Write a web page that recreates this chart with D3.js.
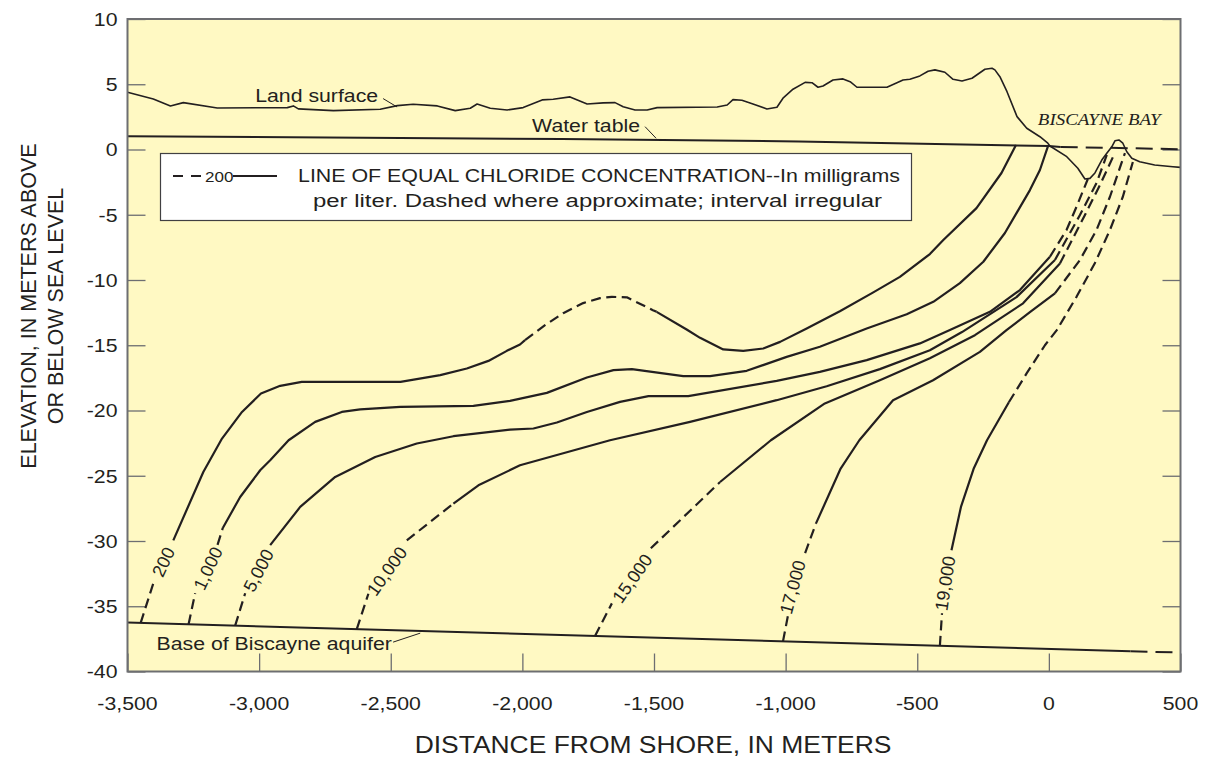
<!DOCTYPE html>
<html>
<head>
<meta charset="utf-8">
<script src="https://cdn.jsdelivr.net/npm/d3@7"></script>
<style>
  body { margin: 0; background: #ffffff; }
  svg text { fill: #231f20; }
</style>
</head>
<body>
<svg id="chart" width="1211" height="758"></svg>
<script>
// ---- axis ticks -------------------------------------------------------
const xTicks = [-3500, -3000, -2500, -2000, -1500, -1000, -500, 0, 500];
const yTicks = [10, 5, 0, -5, -10, -15, -20, -25, -30, -35, -40];

// ---- profile lines (distance from shore m, elevation m) -----------------
const landSurface = [
  [-3500,4.39],[-3402,3.87],[-3337,3.34],[-3288,3.59],[-3159,3.18],[-2893,3.21],[-2870,3.34],
  [-2851,3.11],[-2718,2.98],[-2540,3.08],[-2475,3.36],[-2415,3.47],[-2323,3.34],[-2255,2.98],
  [-2198,3.16],[-2172,3.49],[-2122,3.16],[-2058,3.03],[-1997,3.21],[-1925,3.80],[-1883,3.85],
  [-1819,4.03],[-1754,3.49],[-1693,3.57],[-1648,3.59],[-1617,3.28],[-1572,3.03],[-1526,3.03],
  [-1488,3.21],[-1260,3.26],[-1222,3.41],[-1200,3.82],[-1166,3.77],[-1124,3.49],[-1071,3.11],
  [-1033,3.24],[-1010,3.93],[-972,4.62],[-926,5.14],[-900,5.12],[-877,4.77],[-858,4.87],
  [-820,5.33],[-782,5.41],[-755,5.20],[-729,4.77],[-615,4.77],[-554,5.33],[-528,5.38],
  [-490,5.64],[-459,6.00],[-433,6.10],[-395,5.92],[-364,5.38],[-330,5.25],[-292,5.46],
  [-243,6.15],[-216,6.23],[-205,6.10],[-186,5.58],[-159,4.43],[-121,2.52],[-84,1.63],
  [-34,0.98],[-4,0.48],[4,0.27],[68,-0.55],[110,-1.44],[137,-2.26],[156,-2.21],[175,-1.80],
  [201,-0.81],[220,-0.29],[239,0.21],[251,0.67],[266,0.73],[281,0.48],[296,-0.17],[315,-0.67],
  [345,-0.94],[402,-1.19],[471,-1.32],[500,-1.37]
];
const waterTable = [[-3500,1.02],[-1850,0.80],[-950,0.62],[0,0.27],[45,0.20]];
const waterTableBay = [[45,0.20],[500,0.02]];
const aquiferBase = [[-3500,-36.25],[310,-38.45]];
const aquiferBaseOffshore = [[310,-38.45],[500,-38.55]];

// ---- lines of equal chloride concentration (mg/L) ----------------------
// each piece: "d" dashed, "s" solid, "label" gap holding the value label
const chloride200 = [
  {s:"d", p:[[-3450,-36.28],[-3402,-33.25]]},
  {s:"label", p:[[-3364,-31.6]]},
  {s:"s", p:[[-3326,-29.95],[-3212,-24.71],[-3141,-22.15],[-3065,-20.11],[-2993,-18.70],[-2920,-18.11],
             [-2838,-17.81],[-2463,-17.81],[-2312,-17.29],[-2211,-16.78],[-2129,-16.20],[-2059,-15.43],
             [-2009,-14.94],[-1990,-14.61]]},
  {s:"d", p:[[-1990,-14.61],[-1914,-13.46],[-1845,-12.54],[-1769,-11.77],[-1705,-11.39],[-1660,-11.29],
             [-1603,-11.33],[-1504,-12.31],[-1490,-12.44]]},
  {s:"s", p:[[-1490,-12.44],[-1376,-13.79],[-1325,-14.43],[-1237,-15.32],[-1161,-15.43],[-1085,-15.25],
             [-1021,-14.74],[-920,-13.71],[-794,-12.39],[-667,-10.95],[-566,-9.76],[-452,-8.01],
             [-401,-6.94],[-275,-4.49],[-180,-1.80],[-125,0.35]]}
];
const chloride1000 = [
  {s:"d", p:[[-3268,-36.38],[-3243,-34.0]]},
  {s:"label", p:[[-3195,-32.1]]},
  {s:"d", p:[[-3158,-30.3],[-3138,-29.0]]},
  {s:"s", p:[[-3138,-29.0],[-3072,-26.63],[-2996,-24.58],[-2958,-23.81],[-2888,-22.28],[-2787,-20.87],
             [-2686,-20.11],[-2616,-19.92],[-2464,-19.72],[-2186,-19.65],[-2047,-19.26],[-1907,-18.65],
             [-1755,-17.47],[-1654,-16.91],[-1584,-16.83],[-1389,-17.37],[-1287,-17.37],[-1148,-16.96],
             [-996,-15.89],[-870,-15.12],[-692,-13.71],[-540,-12.62],[-439,-11.67],[-338,-10.24],
             [-249,-8.60],[-167,-6.40],[-72,-3.11],[-34,-1.57],[-3,0.27]]}
];
const chloride5000 = [
  {s:"d", p:[[-3091,-36.49],[-3053,-34.0]]},
  {s:"label", p:[[-3003,-32.25]]},
  {s:"s", p:[[-2958,-30.32],[-2844,-27.39],[-2711,-25.09],[-2559,-23.56],[-2401,-22.53],[-2262,-21.97],
             [-2047,-21.46],[-1958,-21.38],[-1869,-20.92],[-1755,-20.11],[-1629,-19.34],[-1521,-18.90],
             [-1370,-18.90],[-1034,-17.73],[-870,-17.04],[-692,-16.14],[-490,-14.86],[-376,-13.84],
             [-224,-12.44],[-110,-10.77],[4,-8.22]]},
  {s:"d", p:[[4,-8.22],[67,-6.17],[105,-4.39],[148,-2.26]]}
];
const chloride10000 = [
  {s:"d", p:[[-2629,-36.75],[-2585,-34.04]]},
  {s:"label", p:[[-2515,-32.3]]},
  {s:"d", p:[[-2439,-29.95],[-2262,-27.13]]},
  {s:"s", p:[[-2262,-27.13],[-2167,-25.73],[-2009,-24.20],[-1667,-22.28],[-1363,-20.87],[-1034,-19.21],
             [-844,-18.14],[-642,-16.83],[-452,-15.38],[-330,-13.99],[-123,-11.31],[23,-8.47]]},
  {s:"d", p:[[23,-8.47],[118,-5.02],[181,-2.57],[220,-0.42]]}
];
const chloride15000 = [
  {s:"d", p:[[-1724,-37.28],[-1660,-34.78]]},
  {s:"label", p:[[-1583,-32.86]]},
  {s:"d", p:[[-1512,-30.56],[-1249,-25.48]]},
  {s:"s", p:[[-1249,-25.48],[-1056,-22.28],[-851,-19.46],[-642,-17.68],[-452,-15.99],[-281,-14.23],
             [-98,-11.79],[42,-8.73]]},
  {s:"d", p:[[42,-8.73],[137,-5.02],[194,-2.72],[247,-0.42]]}
];
const chloride17000 = [
  {s:"d", p:[[-1010,-37.69],[-991,-35.7]]},
  {s:"label", p:[[-974,-33.53]]},
  {s:"d", p:[[-926,-30.92],[-885,-28.67]]},
  {s:"s", p:[[-885,-28.67],[-791,-24.45],[-720,-22.28],[-592,-19.21],[-440,-17.68],[-262,-15.51],
             [-161,-13.84],[-72,-12.46],[23,-11.03]]},
  {s:"d", p:[[23,-11.03],[118,-8.47],[181,-6.17],[232,-3.62],[289,-0.27]]}
];
const chloride19000 = [
  {s:"d", p:[[-414,-38.03],[-406,-35.54]]},
  {s:"label", p:[[-395,-33.24]]},
  {s:"s", p:[[-370,-30.71],[-334,-27.39],[-285,-24.42],[-235,-22.28],[-152,-19.37]]},
  {s:"d", p:[[-152,-19.37],[-84,-17.14],[-15,-15.0],[30,-13.84],[105,-11.29],[175,-8.70],
             [232,-6.17],[281,-3.62],[319,-0.96]]}
];
const chlorideLines = [
  ["200", chloride200], ["1,000", chloride1000], ["5,000", chloride5000], ["10,000", chloride10000],
  ["15,000", chloride15000], ["17,000", chloride17000], ["19,000", chloride19000]
];

// ---- layout -------------------------------------------------------------
const svg = d3.select("#chart");
const sans = "'Liberation Sans', Arial, Helvetica, sans-serif";
const serif = "'Liberation Serif', 'Times New Roman', serif";
const plot = {left: 127.5, right: 1180.5, top: 19, bottom: 671.5};
const x = d3.scaleLinear().domain([-3500, 500]).range([plot.left, plot.right]);
const y = d3.scaleLinear().domain([-40, 10]).range([plot.bottom, plot.top]);
const ink = "#231f20";
const frameColor = "#6d6e71";
const dashPattern = "10,5.5";
const fmt = d3.formatLocale({decimal: ".", thousands: ",", grouping: [3], currency: ["", ""], minus: "-"}).format(",");

// text drawn slightly widened, anchored at (px, py)
const wideText = (parent, px, py, txt, size, k, anchor) => parent.append("text")
  .attr("transform", `translate(${px},${py}) scale(${k},1)`)
  .attr("text-anchor", anchor || "start")
  .style("font-family", sans).attr("font-size", size).text(txt);

svg.append("rect")
  .attr("x", plot.left).attr("y", plot.top)
  .attr("width", plot.right - plot.left).attr("height", plot.bottom - plot.top)
  .attr("fill", "#fff9c3");

const line = d3.line().x(d => x(d[0])).y(d => y(d[1]));

// axes: inward ticks on bottom, left and right
const gx = svg.append("g").attr("transform", `translate(0,${plot.bottom})`)
  .call(d3.axisBottom(x).tickValues(xTicks).tickSize(-18).tickFormat(""));
const gy = svg.append("g").attr("transform", `translate(${plot.left},0)`)
  .call(d3.axisLeft(y).tickValues(yTicks).tickSize(-18).tickFormat(""));
const gyr = svg.append("g").attr("transform", `translate(${plot.right},0)`)
  .call(d3.axisRight(y).tickValues(yTicks).tickSize(-18).tickFormat(""));
[gx, gy, gyr].forEach(g => {
  g.select(".domain").remove();
  g.selectAll(".tick line").attr("stroke", frameColor).attr("stroke-width", 1.3);
});
xTicks.forEach(v => wideText(svg, x(v), 710, fmt(v), 19, 1.12, "middle"));
yTicks.forEach(v => wideText(svg, 117.5, y(v) + 6.8, fmt(v), 19, 1.12, "end"));

// profile lines
const drawPath = (pts, dash, width) => svg.append("path")
  .attr("d", line(pts)).attr("fill", "none").attr("stroke", ink)
  .attr("stroke-width", width).attr("stroke-linejoin", "round")
  .attr("stroke-dasharray", dash);

drawPath(landSurface, null, 1.6);
drawPath(waterTable, null, 2);
drawPath(waterTableBay, "17,8", 2);
drawPath(aquiferBase, null, 2);
drawPath(aquiferBaseOffshore, "17,8", 2);

// chloride lines with rotated value labels
chlorideLines.forEach(([name, pieces]) => {
  pieces.forEach((piece, i) => {
    if (piece.s === "label") {
      const prev = pieces[i - 1].p, next = pieces[i + 1].p;
      const a = prev[prev.length - 1], b = next[0];
      const ang = Math.atan2(y(b[1]) - y(a[1]), x(b[0]) - x(a[0])) * 180 / Math.PI;
      const c = piece.p[0];
      svg.append("text")
        .attr("transform", `translate(${x(c[0])},${y(c[1])}) rotate(${ang})`)
        .attr("text-anchor", "middle").attr("dy", "0.36em")
        .style("font-family", sans).attr("font-size", 18).text(name);
    } else {
      drawPath(piece.p, piece.s === "d" ? dashPattern : null, 2.2);
    }
  });
});

// frame
svg.append("rect")
  .attr("x", plot.left).attr("y", plot.top)
  .attr("width", plot.right - plot.left).attr("height", plot.bottom - plot.top)
  .attr("fill", "none").attr("stroke", frameColor).attr("stroke-width", 2);

// line annotations
const leader = (a, b) => svg.append("line")
  .attr("x1", x(a[0])).attr("y1", y(a[1])).attr("x2", x(b[0])).attr("y2", y(b[1]))
  .attr("stroke", ink).attr("stroke-width", 1);

wideText(svg, x(-2548), y(3.67), "Land surface", 18.5, 1.15, "end");
leader([-2529, 3.9], [-2476, 3.26]);
wideText(svg, x(-1553), y(1.32), "Water table", 18.5, 1.15, "end");
leader([-1534, 1.75], [-1492, 0.86]);
wideText(svg, x(-2496), y(-38.39), "Base of Biscayne aquifer", 18.5, 1.15, "end");
leader([-2491, -37.75], [-2388, -37.06]);
wideText(svg, x(-42), y(1.88), "BISCAYNE BAY", 16.5, 1.15, "start")
  .style("font-family", serif).style("font-style", "italic");

// legend
const lg = svg.append("g");
lg.append("rect").attr("x", 160.5).attr("y", 153.5).attr("width", 751).attr("height", 67)
  .attr("fill", "#ffffff").attr("stroke", "#414042").attr("stroke-width", 1.2);
lg.append("line").attr("x1", 173).attr("x2", 202).attr("y1", 176).attr("y2", 176)
  .attr("stroke", ink).attr("stroke-width", 2.2).attr("stroke-dasharray", "10,8");
wideText(lg, 205, 182, "200", 15.5, 1.1, "start");
lg.append("line").attr("x1", 233).attr("x2", 277).attr("y1", 176).attr("y2", 176)
  .attr("stroke", ink).attr("stroke-width", 2.2);
lg.append("text").attr("x", 298).attr("y", 182).style("font-family", sans).attr("font-size", 17.5)
  .attr("textLength", 602).attr("lengthAdjust", "spacingAndGlyphs")
  .text("LINE OF EQUAL CHLORIDE CONCENTRATION--In milligrams");
lg.append("text").attr("x", 313).attr("y", 207).style("font-family", sans).attr("font-size", 17.5)
  .attr("textLength", 569).attr("lengthAdjust", "spacingAndGlyphs")
  .text("per liter. Dashed where approximate; interval irregular");

// axis titles
wideText(svg, 653, 753, "DISTANCE FROM SHORE, IN METERS", 23, 1.15, "middle");
const yt = svg.append("text").attr("transform", "translate(0,306) rotate(-90)")
  .attr("text-anchor", "middle").style("font-family", sans).attr("font-size", 21.5);
yt.append("tspan").attr("x", 0).attr("y", 36).text("ELEVATION, IN METERS ABOVE");
yt.append("tspan").attr("x", 0).attr("y", 63).text("OR BELOW SEA LEVEL");
</script>
</body>
</html>
